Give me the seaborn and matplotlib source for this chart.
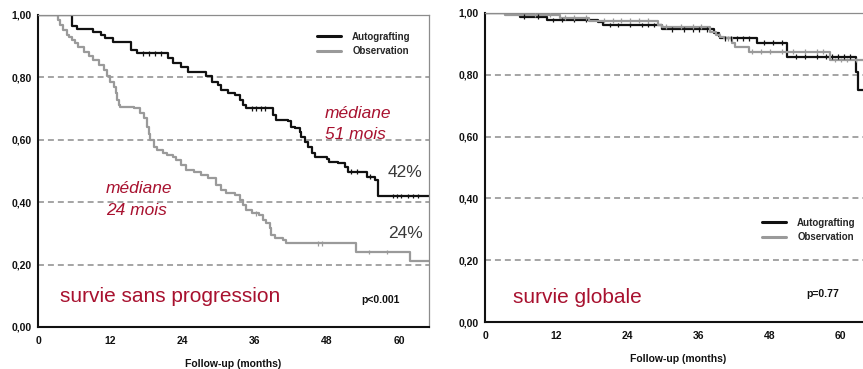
import numpy as np
import pandas as pd
import matplotlib
matplotlib.use("Agg")
import matplotlib.pyplot as plt
import seaborn as sns

# ---------------------------------------------------------------- data
groups = ["Autografting", "Observation"]
colors = {"Autografting": "#111111", "Observation": "#9a9a9a"}
x_end = 65.0
x_ticks = [0, 12, 24, 36, 48, 60]
y_ticks = [0.0, 0.2, 0.4, 0.6, 0.8, 1.0]
y_tick_labels = ["0,00", "0,20", "0,40", "0,60", "0,80", "1,00"]

# progression-free survival (step times in months, survival after each step)
pfs_auto_t = [0, 5.7, 6.5, 9.2, 10.5, 11.2, 12.5, 15.4, 16.5, 21.6, 22.5, 23.8,
              25.0, 28.0, 29.0, 29.9, 30.4, 31.6, 32.7, 33.5, 34.0, 34.6, 39.0,
              39.6, 41.6, 42.1, 42.7, 43.5, 43.8, 44.4, 44.9, 45.5, 46.0, 48.0,
              48.3, 49.9, 51.0, 51.6, 54.7, 56.0, 56.5]
pfs_auto_s = [1.0, 0.966, 0.955, 0.944, 0.936, 0.927, 0.915, 0.888, 0.877, 0.861,
              0.845, 0.834, 0.818, 0.803, 0.786, 0.776, 0.760, 0.749, 0.744, 0.728,
              0.712, 0.701, 0.679, 0.663, 0.659, 0.642, 0.637, 0.626, 0.610, 0.594,
              0.578, 0.557, 0.546, 0.540, 0.530, 0.525, 0.514, 0.498, 0.482, 0.471,
              0.42]
pfs_auto_cens = [17.5, 18.5, 19.5, 20.5, 35.5, 36.2, 37.0, 37.8, 52.0, 53.0, 55.2,
                 59.0, 59.7, 60.3, 61.5, 62.3, 63.2]

pfs_obs_t = [0, 3.4, 3.7, 4.2, 4.8, 5.1, 5.6, 6.2, 6.7, 7.6, 8.4, 9.2, 10.1, 10.9,
             11.5, 12.0, 12.6, 12.9, 13.2, 13.4, 13.7, 15.9, 17.0, 17.6, 18.2,
             18.4, 18.7, 19.3, 19.8, 20.7, 21.5, 22.4, 22.9, 23.7, 24.6, 25.9,
             27.1, 28.2, 29.6, 30.4, 31.3, 32.7, 33.5, 34.0, 34.6, 35.5, 36.8,
             37.4, 37.9, 38.5, 38.8, 39.4, 40.8, 41.3, 52.9, 61.9]
pfs_obs_s = [1.0, 0.984, 0.968, 0.952, 0.936, 0.930, 0.920, 0.909, 0.899, 0.883,
             0.867, 0.856, 0.840, 0.824, 0.803, 0.786, 0.770, 0.749, 0.728, 0.712,
             0.706, 0.701, 0.685, 0.669, 0.642, 0.620, 0.600, 0.578, 0.567, 0.557,
             0.551, 0.546, 0.535, 0.519, 0.503, 0.498, 0.487, 0.476, 0.455, 0.439,
             0.428, 0.423, 0.407, 0.391, 0.375, 0.364, 0.359, 0.343, 0.332, 0.316,
             0.295, 0.284, 0.279, 0.268, 0.24, 0.21]
pfs_obs_cens = [36.2, 46.5, 47.2, 55.0, 58.0]

# overall survival
os_auto_t = [0, 5.9, 10.4, 19.0, 19.9, 29.9, 38.6, 39.4, 39.7, 45.9, 51.0, 62.5, 62.9]
os_auto_s = [1.0, 0.988, 0.977, 0.972, 0.961, 0.947, 0.934, 0.926, 0.918, 0.904,
             0.859, 0.81, 0.75]
os_auto_cens = [6.5, 9.0, 11.5, 13.0, 15.0, 17.0, 21.0, 22.5, 24.5, 26.5, 27.5,
                28.5, 31.5, 33.5, 35.0, 36.0, 37.5, 40.5, 41.5, 42.5, 43.5, 44.5,
                47.0, 48.5, 50.0, 52.5, 54.0, 56.0, 57.5, 58.5, 59.5, 60.5, 61.5]

os_obs_t = [0, 3.4, 12.6, 17.6, 29.1, 29.9, 38.0, 38.9, 39.7, 40.3, 41.7, 42.2, 44.5, 58.2]
os_obs_s = [1.0, 0.995, 0.985, 0.975, 0.961, 0.956, 0.94, 0.929, 0.923, 0.918,
            0.902, 0.891, 0.875, 0.848]
os_obs_cens = [8.5, 11.0, 13.5, 15.0, 17.0, 20.0, 21.5, 23.0, 24.5, 26.0, 27.5,
               30.5, 33.0, 35.0, 36.5, 39.5, 41.0, 45.0, 46.5, 48.0, 50.0, 52.0,
               54.0, 56.0, 57.0, 59.0, 60.0, 61.0, 62.5]

pfs_auto_label, pfs_obs_label = "42%", "24%"
pfs_auto_median, pfs_obs_median = "51 mois", "24 mois"
pfs_p, os_p = "p<0.001", "p=0.77"
pfs_title, os_title = "survie sans progression", "survie globale"


# ---------------------------------------------------------------- helpers
def step_value(t, s, tc):
    idx = np.searchsorted(np.asarray(t), np.asarray(tc), side="right") - 1
    return np.asarray(s)[idx]


def curve_frame(curves):
    rows = []
    for g, (t, s) in curves.items():
        for ti, si in zip(list(t) + [x_end], list(s) + [s[-1]]):
            rows.append((g, ti, si))
    return pd.DataFrame(rows, columns=["group", "months", "surv"])


def censor_frame(curves, cens):
    rows = []
    for g, (t, s) in curves.items():
        for tc, sc in zip(cens[g], step_value(t, s, cens[g])):
            rows.append((g, tc, sc))
    return pd.DataFrame(rows, columns=["group", "months", "surv"])


sns.set_style("white")
plt.rcParams["font.family"] = ["Liberation Sans", "DejaVu Sans"]

RED = "#a8112f"
TXT = "#3a3a3a"

fig = plt.figure(figsize=(8.63, 3.69), dpi=100)
ax1 = fig.add_axes([38 / 863, 1 - 327 / 369, 391 / 863, 312 / 369])
ax2 = fig.add_axes([485 / 863, 1 - 322 / 369, 385.5 / 863, 309 / 369])


def draw_panel(ax, curves, cens, legend_anchor):
    df = curve_frame(curves)
    sns.lineplot(data=df, x="months", y="surv", hue="group", hue_order=groups,
                 palette=colors, drawstyle="steps-post", estimator=None,
                 linewidth=1.6, ax=ax)
    cdf = censor_frame(curves, cens)
    sns.scatterplot(data=cdf, x="months", y="surv", hue="group", hue_order=groups,
                    palette=colors, marker="|", s=11, linewidth=0.9,
                    legend=False, ax=ax, zorder=3)
    for yv in [0.2, 0.4, 0.6, 0.8]:
        ax.axhline(yv, color="#8c8c8c", lw=1.1, dashes=(3.9, 2.6), zorder=0)
    ax.set_xlim(0, x_end)
    ax.set_ylim(0, 1.0)
    ax.set_xticks(x_ticks)
    ax.set_xticklabels([str(v) for v in x_ticks], fontsize=7.5, fontweight="bold")
    ax.set_yticks(y_ticks)
    ax.set_yticklabels(y_tick_labels, fontsize=7.5, fontweight="bold")
    ax.tick_params(axis="both", direction="out", length=3.5, width=1.0,
                   color="#111111", labelcolor="#111111")
    ax.tick_params(axis="x", pad=3)
    ax.tick_params(axis="y", pad=1)
    ax.set_xlabel("Follow-up (months)", fontsize=7.5, fontweight="bold",
                  color="#111111", labelpad=9)
    ax.set_ylabel("")
    for side in ["left", "bottom"]:
        ax.spines[side].set_color("#111111")
        ax.spines[side].set_linewidth(1.5)
    for side in ["top", "right"]:
        ax.spines[side].set_color("#8c8c8c")
        ax.spines[side].set_linewidth(0.9)
    handles, labels = ax.get_legend_handles_labels()
    leg = ax.legend(handles, labels, loc="upper left", bbox_to_anchor=legend_anchor,
                    frameon=False, borderpad=0, borderaxespad=0,
                    handlelength=2.4, handletextpad=1.2, labelspacing=0.45,
                    prop={"size": 7, "weight": "bold"})
    for line in leg.get_lines():
        line.set_linewidth(2.2)


pfs_curves = {"Autografting": (pfs_auto_t, pfs_auto_s),
              "Observation": (pfs_obs_t, pfs_obs_s)}
pfs_cens = {"Autografting": pfs_auto_cens, "Observation": pfs_obs_cens}
os_curves = {"Autografting": (os_auto_t, os_auto_s),
             "Observation": (os_obs_t, os_obs_s)}
os_cens = {"Autografting": os_auto_cens, "Observation": os_obs_cens}

draw_panel(ax1, pfs_curves, pfs_cens, (0.714, 0.947))
draw_panel(ax2, os_curves, os_cens, (0.719, 0.337))

# annotations, progression-free survival
ax1.text(47.7, 0.669, "médiane", color=RED, fontsize=12.5, style="italic")
ax1.text(47.7, 0.602, pfs_auto_median, color=RED, fontsize=12.5, style="italic")
ax1.text(11.3, 0.428, "médiane", color=RED, fontsize=12.5, style="italic")
ax1.text(11.3, 0.359, pfs_obs_median, color=RED, fontsize=12.5, style="italic")
ax1.text(58.2, 0.482, pfs_auto_label, color=TXT, fontsize=12.5)
ax1.text(58.2, 0.286, pfs_obs_label, color=TXT, fontsize=12.5)
ax1.text(3.66, 0.081, pfs_title, color=RED, fontsize=15)
ax1.text(53.8, 0.076, pfs_p, color="#111111", fontsize=7.5, fontweight="bold")

# annotations, overall survival
ax2.text(4.7, 0.0605, os_title, color=RED, fontsize=15)
ax2.text(54.1, 0.08, os_p, color="#111111", fontsize=7.5, fontweight="bold")

fig.savefig("out.png", dpi=100)
